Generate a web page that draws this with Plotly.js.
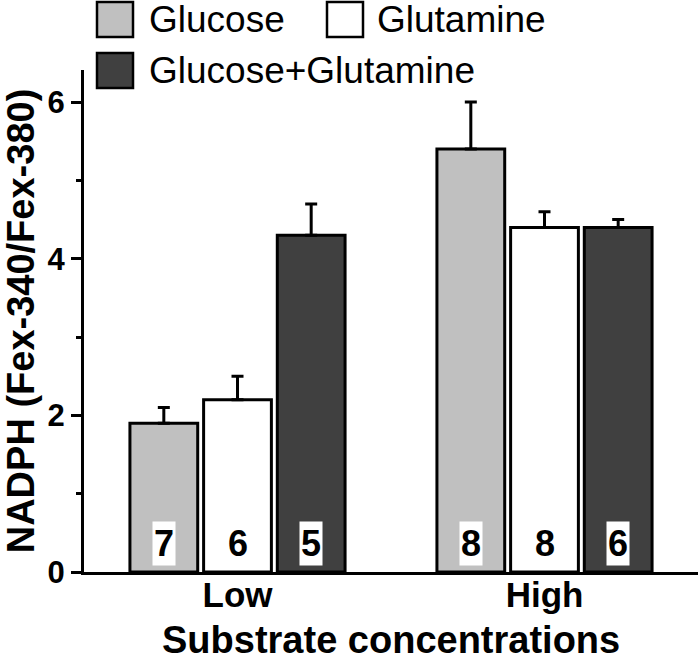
<!DOCTYPE html>
<html>
<head>
<meta charset="utf-8">
<script src="https://cdn.plot.ly/plotly-3.0.1.min.js"></script>
<style>html,body{margin:0;padding:0;background:#fff;}#chart{width:700px;height:664px;}</style>
</head>
<body>
<div id="chart"></div>
<script>
// ---- data ----
var categories = ["Low", "High"];
var seriesNames = ["Glucose", "Glutamine", "Glucose+Glutamine"];
var glucose = [1.9, 5.4];
var glutamine = [2.2, 4.4];
var glucoseGlutamine = [4.3, 4.4];
var glucoseErr = [0.2, 0.6];
var glutamineErr = [0.3, 0.2];
var glucoseGlutamineErr = [0.4, 0.1];
var glucoseN = ["7", "8"];
var glutamineN = ["6", "8"];
var glucoseGlutamineN = ["5", "6"];
var yTickVals = [0, 2, 4, 6];

// ---- style ----
var colors = ["#c0c0c0", "#ffffff", "#404040"];
var FONT = "Liberation Sans, Arial, Helvetica, sans-serif";
var BARGAP = 0.28, BARGROUPGAP = 0.08;
var values = [glucose, glutamine, glucoseGlutamine];
var errs = [glucoseErr, glutamineErr, glucoseGlutamineErr];
var ns = [glucoseN, glutamineN, glucoseGlutamineN];

var traces = values.map(function (v, j) {
  return {
    type: "bar",
    name: seriesNames[j],
    x: categories,
    y: v,
    marker: { color: colors[j], line: { color: "#000", width: 3 } },
    error_y: {
      type: "data", array: errs[j], symmetric: false,
      arrayminus: errs[j].map(function () { return 0; }),
      color: "#000", thickness: 3, width: 6
    },
    showlegend: false,
    hoverinfo: "skip"
  };
});

// plot area in pixels (for the hand-made legend)
var M = { l: 84, r: 2, t: 70, b: 92 };
var W = 700, H = 664;
var PW = W - M.l - M.r, PH = H - M.t - M.b;
function px(x) { return (x - M.l) / PW; }
function py(y) { return (H - M.b - y) / PH; }

var annotations = [];
var slot = (1 - BARGAP) / 3;
for (var j = 0; j < 3; j++) {
  for (var i = 0; i < categories.length; i++) {
    annotations.push({
      x: i + (j - 1) * slot, y: 0, xref: "x", yref: "y",
      xanchor: "center", yanchor: "bottom", yshift: 6,
      text: ns[j][i], showarrow: false,
      bgcolor: "#ffffff", borderpad: 1,
      font: { family: FONT, size: 36, color: "#000", weight: "bold" }
    });
  }
}

// legend (hand-made so swatches match the reference size)
var legendItems = [
  { sx: 97, sy: 2, tx: 147 },
  { sx: 327, sy: 2, tx: 375 },
  { sx: 97, sy: 53, tx: 147 }
];
var shapes = [];
legendItems.forEach(function (it, j) {
  shapes.push({
    type: "rect", xref: "paper", yref: "paper",
    x0: px(it.sx), x1: px(it.sx + 36), y0: py(it.sy), y1: py(it.sy + 35),
    fillcolor: colors[j], line: { color: "#000", width: 2.5 }
  });
  annotations.push({
    xref: "paper", yref: "paper", x: px(it.tx), y: py(it.sy + 17.5),
    xanchor: "left", yanchor: "middle", showarrow: false,
    text: seriesNames[j],
    font: { family: FONT, size: 37, color: "#000" }
  });
});

// x-axis title placed just under the category labels
annotations.push({
  xref: "paper", yref: "paper", x: px(391), y: py(618),
  xanchor: "center", yanchor: "top", showarrow: false, borderpad: 0,
  text: "Substrate concentrations",
  font: { family: FONT, size: 38, color: "#000", weight: "bold" }
});

var layout = {
  width: W, height: H,
  margin: M,
  paper_bgcolor: "#fff", plot_bgcolor: "#fff",
  barmode: "group", bargap: BARGAP, bargroupgap: BARGROUPGAP,
  showlegend: false,
  font: { family: FONT, color: "#000" },
  xaxis: {
    type: "category", range: [-0.5, 1.5],
    showline: true, linecolor: "#000", linewidth: 3,
    ticks: "", showgrid: false, zeroline: false,
    ticklabelstandoff: -10,
    tickfont: { family: FONT, size: 35, color: "#000", weight: "bold" }
  },
  yaxis: {
    range: [0, 6.41], tickvals: yTickVals, ticktext: yTickVals.map(String),
    showline: true, linecolor: "#000", linewidth: 3,
    ticks: "outside", ticklen: 10, tickwidth: 3, tickcolor: "#000",
    minor: { dtick: 1, ticks: "outside", ticklen: 5, tickwidth: 3, tickcolor: "#000", showgrid: false },
    showgrid: false, zeroline: false,
    tickfont: { family: FONT, size: 31, color: "#000", weight: "bold" },
    title: { text: "NADPH (Fex-340/Fex-380)", standoff: 8,
      font: { family: FONT, size: 38, color: "#000", weight: "bold" } }
  },
  shapes: shapes,
  annotations: annotations
};

Plotly.newPlot("chart", traces, layout, { displayModeBar: false, staticPlot: true });
</script>
</body>
</html>
